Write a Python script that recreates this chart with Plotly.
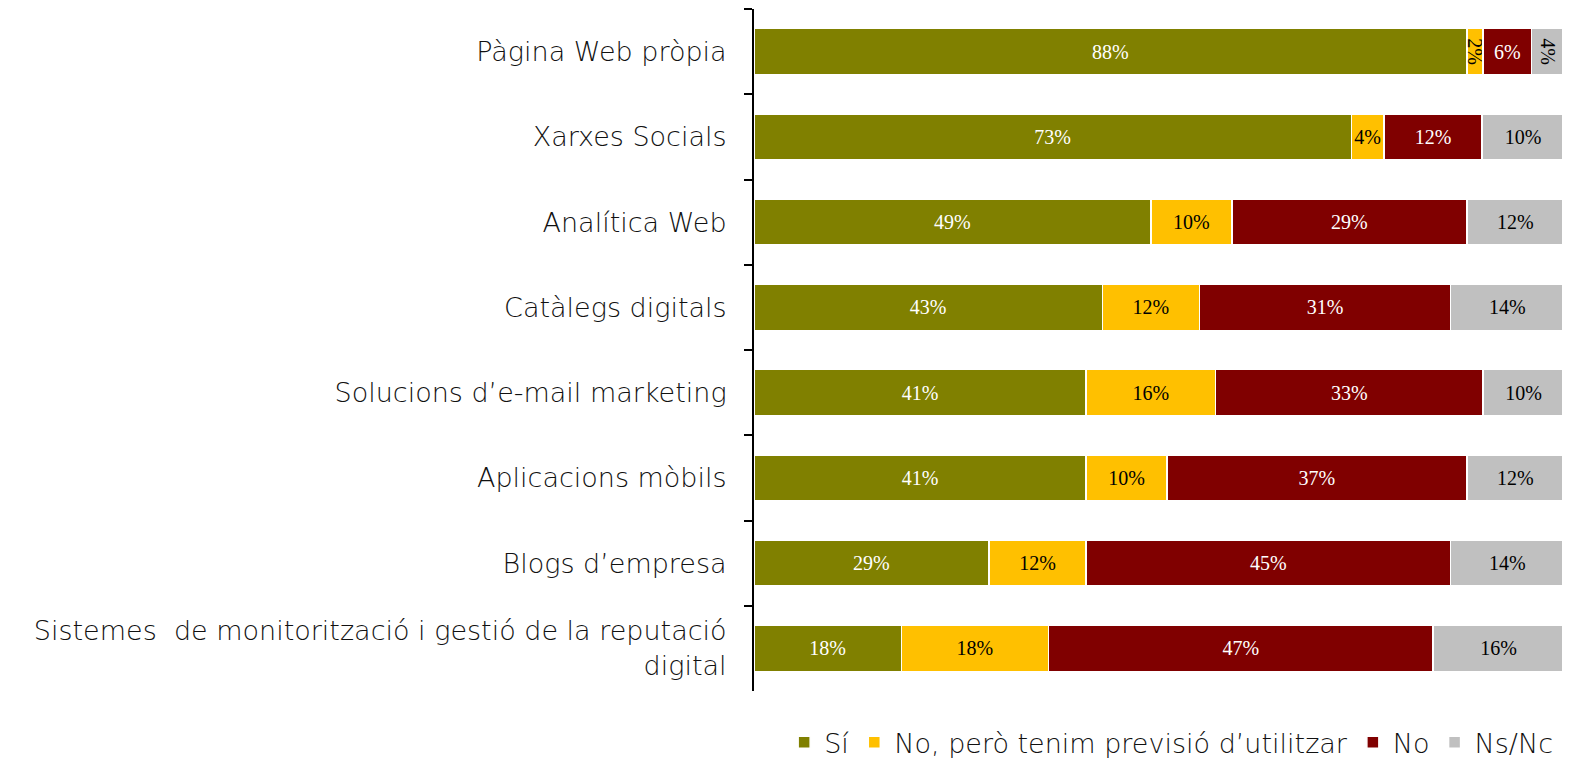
import plotly.graph_objects as go

# -------------------------------
# Data (percentages per tool)
# -------------------------------
categories = [
    "Pàgina Web pròpia",
    "Xarxes Socials",
    "Analítica Web",
    "Catàlegs digitals",
    "Solucions d’e-mail marketing",
    "Aplicacions mòbils",
    "Blogs d’empresa",
    "Sistemes  de monitorització i gestió de la reputació<br>digital",
]

si = [88, 73, 49, 43, 41, 41, 29, 18]
no_previsio = [2, 4, 10, 12, 16, 10, 12, 18]
no = [6, 12, 29, 31, 33, 37, 45, 47]
nsnc = [4, 10, 12, 14, 10, 12, 14, 16]

series = [
    ("Sí", si, "#808000", "white"),
    ("No, però tenim previsió d’utilitzar", no_previsio, "#FFC000", "black"),
    ("No", no, "#800000", "white"),
    ("Ns/Nc", nsnc, "#C0C0C0", "black"),
]

# -------------------------------
# Build figure
# -------------------------------
fig = go.Figure()
for name, vals, color, txt_color in series:
    fig.add_trace(go.Bar(
        y=categories,
        x=vals,
        name=name,
        orientation="h",
        marker=dict(color=color, line=dict(color="white", width=1.5)),
        text=[f"{v}%" for v in vals],
        textposition="inside",
        insidetextanchor="middle",
        textfont=dict(family="Liberation Serif", size=20, color=txt_color),
        hoverinfo="name+x",
    ))

# the page body adds an 8px offset, so margins are shifted to compensate
fig.update_layout(
    barmode="stack",
    barnorm="percent",
    bargap=0.46,
    width=1570,
    height=759,
    plot_bgcolor="white",
    paper_bgcolor="white",
    margin=dict(l=746, r=14, t=1, b=76, autoexpand=False),
    font=dict(family="DejaVu Sans", size=27, color="#111111", weight=200),
    showlegend=True,
    legend=dict(
        orientation="h",
        x=0.515, xanchor="center",
        y=-0.04, yanchor="top",
        font=dict(size=27),
        traceorder="normal",
        itemwidth=30,
        bgcolor="rgba(0,0,0,0)",
    ),
    uniformtext=dict(minsize=20, mode="show"),
)

fig.update_xaxes(range=[0, 100], visible=False)
fig.update_yaxes(
    autorange="reversed",
    automargin=False,
    showline=True,
    linecolor="black",
    linewidth=2,
    ticks="outside",
    tickson="boundaries",
    ticklen=8,
    tickwidth=2,
    tickcolor="black",
    ticklabelstandoff=20,
    tickfont=dict(family="DejaVu Sans", size=27, weight=200),
)

fig.write_html("out.html")
